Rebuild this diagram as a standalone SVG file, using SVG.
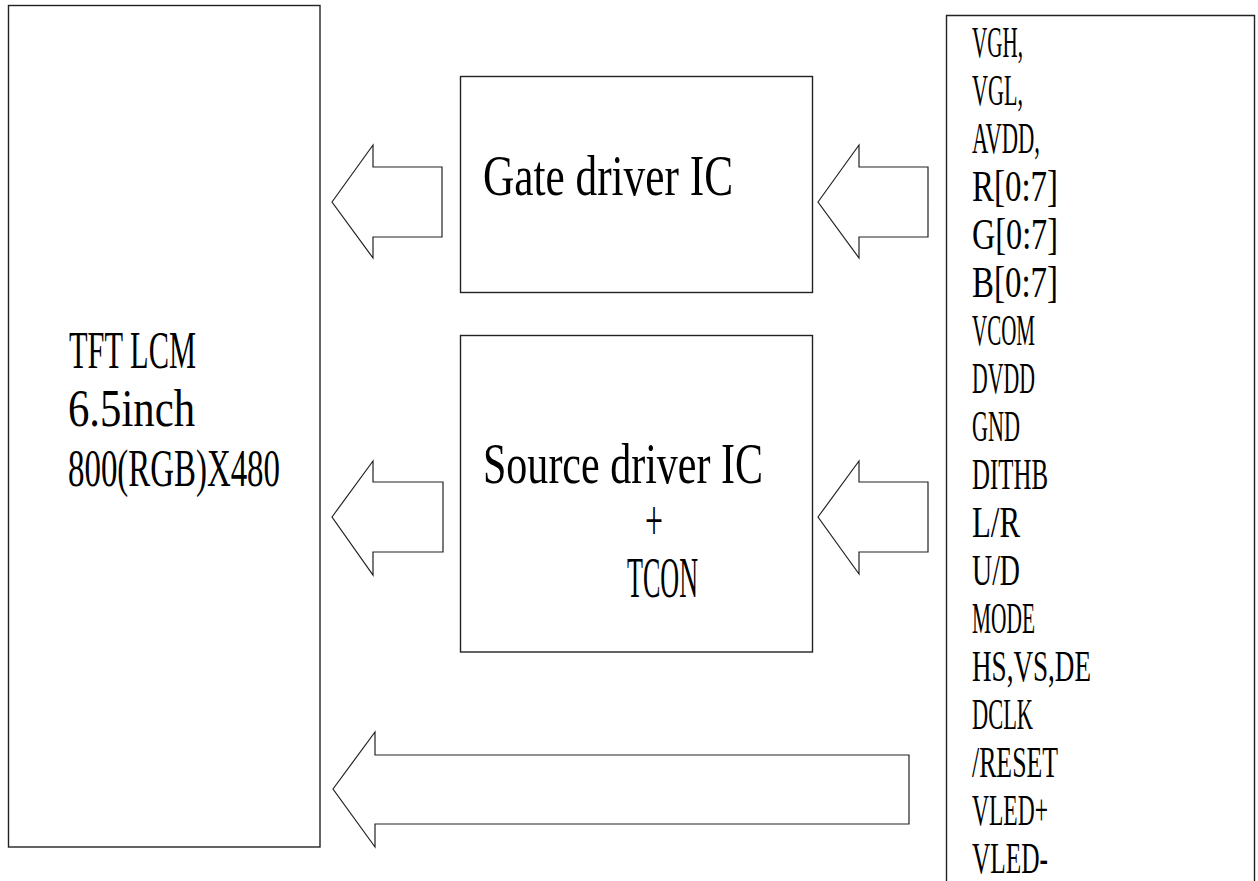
<svg xmlns="http://www.w3.org/2000/svg" width="1258" height="881" viewBox="0 0 1258 881">
<style>
.box{fill:#fff;stroke:#222;stroke-width:1.4}
.arr{fill:#fff;stroke:#222;stroke-width:1.2;stroke-linejoin:miter}
text{font-family:"Liberation Serif","Times New Roman",serif;fill:#000}
.big{font-size:53px}
.mid{font-size:56px}
.lst{font-size:45px}
</style>
<rect width="1258" height="881" fill="#fff"/>
<g id="lcm">
<rect class="box" x="8.5" y="5.5" width="311.5" height="841.5"/>
<text class="big" x="69" y="368" textLength="127" lengthAdjust="spacingAndGlyphs">TFT LCM</text>
<text class="big" x="68" y="426" textLength="127" lengthAdjust="spacingAndGlyphs">6.5inch</text>
<text class="big" x="68" y="486" textLength="212" lengthAdjust="spacingAndGlyphs">800(RGB)X480</text>
</g>
<g id="gate">
<rect class="box" x="460.5" y="76.5" width="352" height="216"/>
<text class="mid" x="483" y="195" textLength="250" lengthAdjust="spacingAndGlyphs">Gate driver IC</text>
</g>
<g id="source">
<rect class="box" x="460.5" y="335.5" width="352" height="316.5"/>
<text class="mid" x="483" y="483" textLength="280" lengthAdjust="spacingAndGlyphs">Source driver IC</text>
<text class="mid" x="645" y="540" textLength="18" lengthAdjust="spacingAndGlyphs">+</text>
<text class="mid" x="627" y="597" textLength="71" lengthAdjust="spacingAndGlyphs">TCON</text>
</g>
<g id="signals">
<polyline class="box" points="946.5,884 946.5,15.5 1254.5,15.5 1254.5,884"/>
<g class="lst">
<text x="972" y="57" textLength="51" lengthAdjust="spacingAndGlyphs">VGH,</text>
<text x="972" y="105" textLength="51" lengthAdjust="spacingAndGlyphs">VGL,</text>
<text x="972" y="153" textLength="68" lengthAdjust="spacingAndGlyphs">AVDD,</text>
<text x="972" y="201" textLength="86" lengthAdjust="spacingAndGlyphs">R[0:7]</text>
<text x="972" y="249" textLength="86" lengthAdjust="spacingAndGlyphs">G[0:7]</text>
<text x="972" y="297" textLength="86" lengthAdjust="spacingAndGlyphs">B[0:7]</text>
<text x="972" y="345" textLength="63" lengthAdjust="spacingAndGlyphs">VCOM</text>
<text x="972" y="393" textLength="63" lengthAdjust="spacingAndGlyphs">DVDD</text>
<text x="972" y="441" textLength="48" lengthAdjust="spacingAndGlyphs">GND</text>
<text x="972" y="489" textLength="76" lengthAdjust="spacingAndGlyphs">DITHB</text>
<text x="972" y="537" textLength="48" lengthAdjust="spacingAndGlyphs">L/R</text>
<text x="972" y="585" textLength="48" lengthAdjust="spacingAndGlyphs">U/D</text>
<text x="972" y="633" textLength="63" lengthAdjust="spacingAndGlyphs">MODE</text>
<text x="972" y="681" textLength="119" lengthAdjust="spacingAndGlyphs">HS,VS,DE</text>
<text x="972" y="729" textLength="61" lengthAdjust="spacingAndGlyphs">DCLK</text>
<text x="972" y="777" textLength="86" lengthAdjust="spacingAndGlyphs">/RESET</text>
<text x="972" y="825" textLength="76" lengthAdjust="spacingAndGlyphs">VLED+</text>
<text x="972" y="873" textLength="76" lengthAdjust="spacingAndGlyphs">VLED-</text>
</g>
</g>
<g id="connectors">
<polygon class="arr" points="332,202 373,145 373,167 442,167 442,237 373,237 373,258"/>
<polygon class="arr" points="818,202 859,145 859,167 928,167 928,237 859,237 859,258"/>
<polygon class="arr" points="332,517 373,461 373,482 443,482 443,552 373,552 373,575"/>
<polygon class="arr" points="818,517 859,461 859,482 928,482 928,552 859,552 859,574"/>
<polygon class="arr" points="333,789 375,732 375,755 909,755 909,824 375,824 375,847"/>
</g>
</svg>
